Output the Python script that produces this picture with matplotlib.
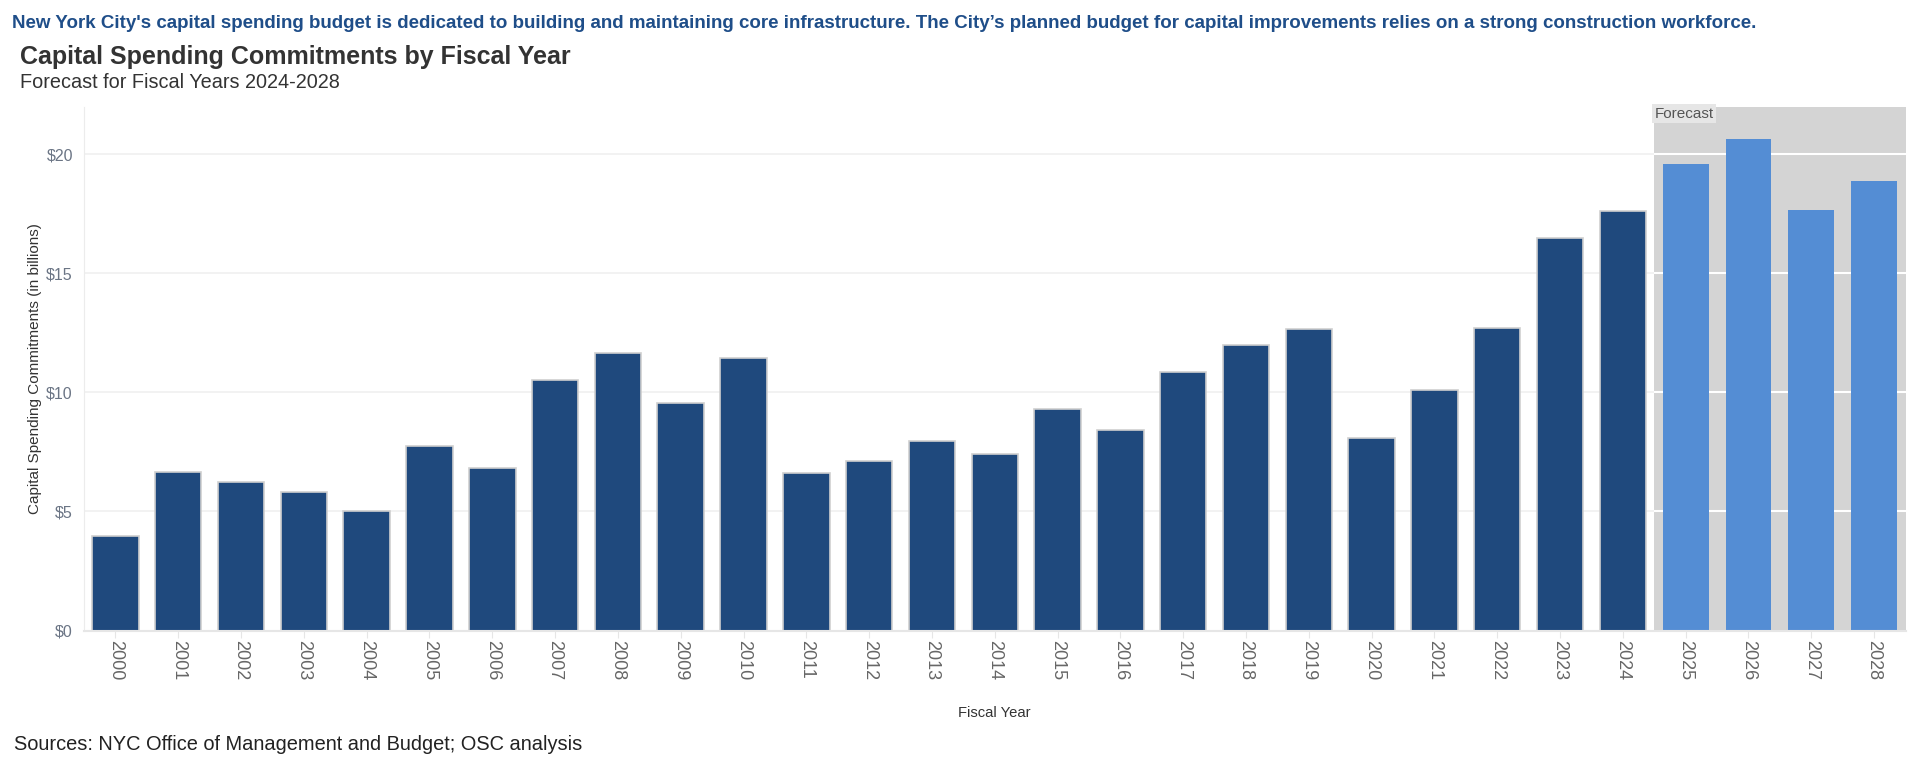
import numpy as np
import matplotlib
matplotlib.use("Agg")
import matplotlib.pyplot as plt

plt.rcParams['font.family'] = ['Liberation Sans', 'DejaVu Sans']

# Capital spending commitments, $ billions
years = [str(y) for y in range(2000, 2029)]
commitments = [3.98, 6.64, 6.22, 5.80, 5.03, 7.76, 6.81, 10.54, 11.67, 9.55,
               11.46, 6.60, 7.13, 7.97, 7.40, 9.29, 8.44, 10.85, 11.97, 12.64,
               8.08, 10.08, 12.70, 16.48, 17.60, 19.60, 20.62, 17.67, 18.88]
first_forecast = "2025"
y_ticks = [0, 5, 10, 15, 20]
y_tick_labels = ["$0", "$5", "$10", "$15", "$20"]

header = ("New York City's capital spending budget is dedicated to building and maintaining "
          "core infrastructure. The City\u2019s planned budget for capital improvements relies "
          "on a strong construction workforce.")
title = "Capital Spending Commitments by Fiscal Year"
subtitle = "Forecast for Fiscal Years 2024-2028"
source = "Sources: NYC Office of Management and Budget; OSC analysis"

hist_color = '#1f497d'
fcst_color = '#548dd4'

fig = plt.figure(figsize=(19.2, 7.69), dpi=100)
ax = fig.add_axes([0.04375, 0.18, 0.9487, 0.6815])

x = np.arange(len(years))
split = years.index(first_forecast)
xmin, xmax = -0.5, len(years) - 0.5
ymax = 22

# forecast shading and gridlines
ax.axvspan(split - 0.5, xmax, color='#d4d4d4', zorder=0, lw=0)
ax.hlines(y_ticks[1:], xmin, split - 0.5, color='#f0f0f0', lw=1.2, zorder=1)
ax.hlines(y_ticks[1:], split - 0.5, xmax, color='white', lw=1.5, zorder=1)

ax.bar(x[:split], commitments[:split], width=0.74, color=hist_color,
       edgecolor='#cfcfcf', linewidth=1.2, zorder=2)
ax.bar(x[split:], commitments[split:], width=0.73, color=fcst_color,
       linewidth=0, zorder=2)

ax.text(split - 0.5, ymax, "Forecast", ha='left', va='top', fontsize=11,
        color='#555555', zorder=3,
        bbox=dict(boxstyle='square,pad=0.15', facecolor='#e6e6e6', edgecolor='none'))

ax.set_xlim(xmin, xmax)
ax.set_ylim(0, ymax)
ax.set_xticks(x)
ax.set_xticklabels(years, rotation=-90, fontsize=13, color='#666666')
ax.set_yticks(y_ticks)
ax.set_yticklabels(y_tick_labels, fontsize=11.5, color='#6b7585')
ax.tick_params(axis='x', length=5, color='#e6e6e6', pad=2)
ax.tick_params(axis='y', length=0, pad=8)

for side in ['top', 'right']:
    ax.spines[side].set_visible(False)
ax.spines['left'].set_color('#ececec')
ax.spines['bottom'].set_color('#e6e6e6')
ax.spines['bottom'].set_linewidth(1.5)

ax.set_ylabel("Capital Spending Commitments (in billions)", fontsize=11, color='#333333')
ax.yaxis.set_label_coords(-0.023, 0.5)
fig.text(994 / 1920, 1 - 713 / 769, "Fiscal Year", ha='center', va='center',
         fontsize=10.6, color='#333333')

fig.text(12 / 1920, 1 - 23 / 769, header, ha='left', va='center', fontsize=13.5,
         fontweight='bold', color='#1f4e89')
fig.text(20 / 1920, 1 - 57 / 769, title, ha='left', va='center', fontsize=18,
         fontweight='bold', color='#333333')
fig.text(20 / 1920, 1 - 83 / 769, subtitle, ha='left', va='center', fontsize=14.3,
         color='#333333')
fig.text(14 / 1920, 1 - 745 / 769, source, ha='left', va='center', fontsize=14.4,
         color='#222222')

fig.savefig("out.png", dpi=100)
